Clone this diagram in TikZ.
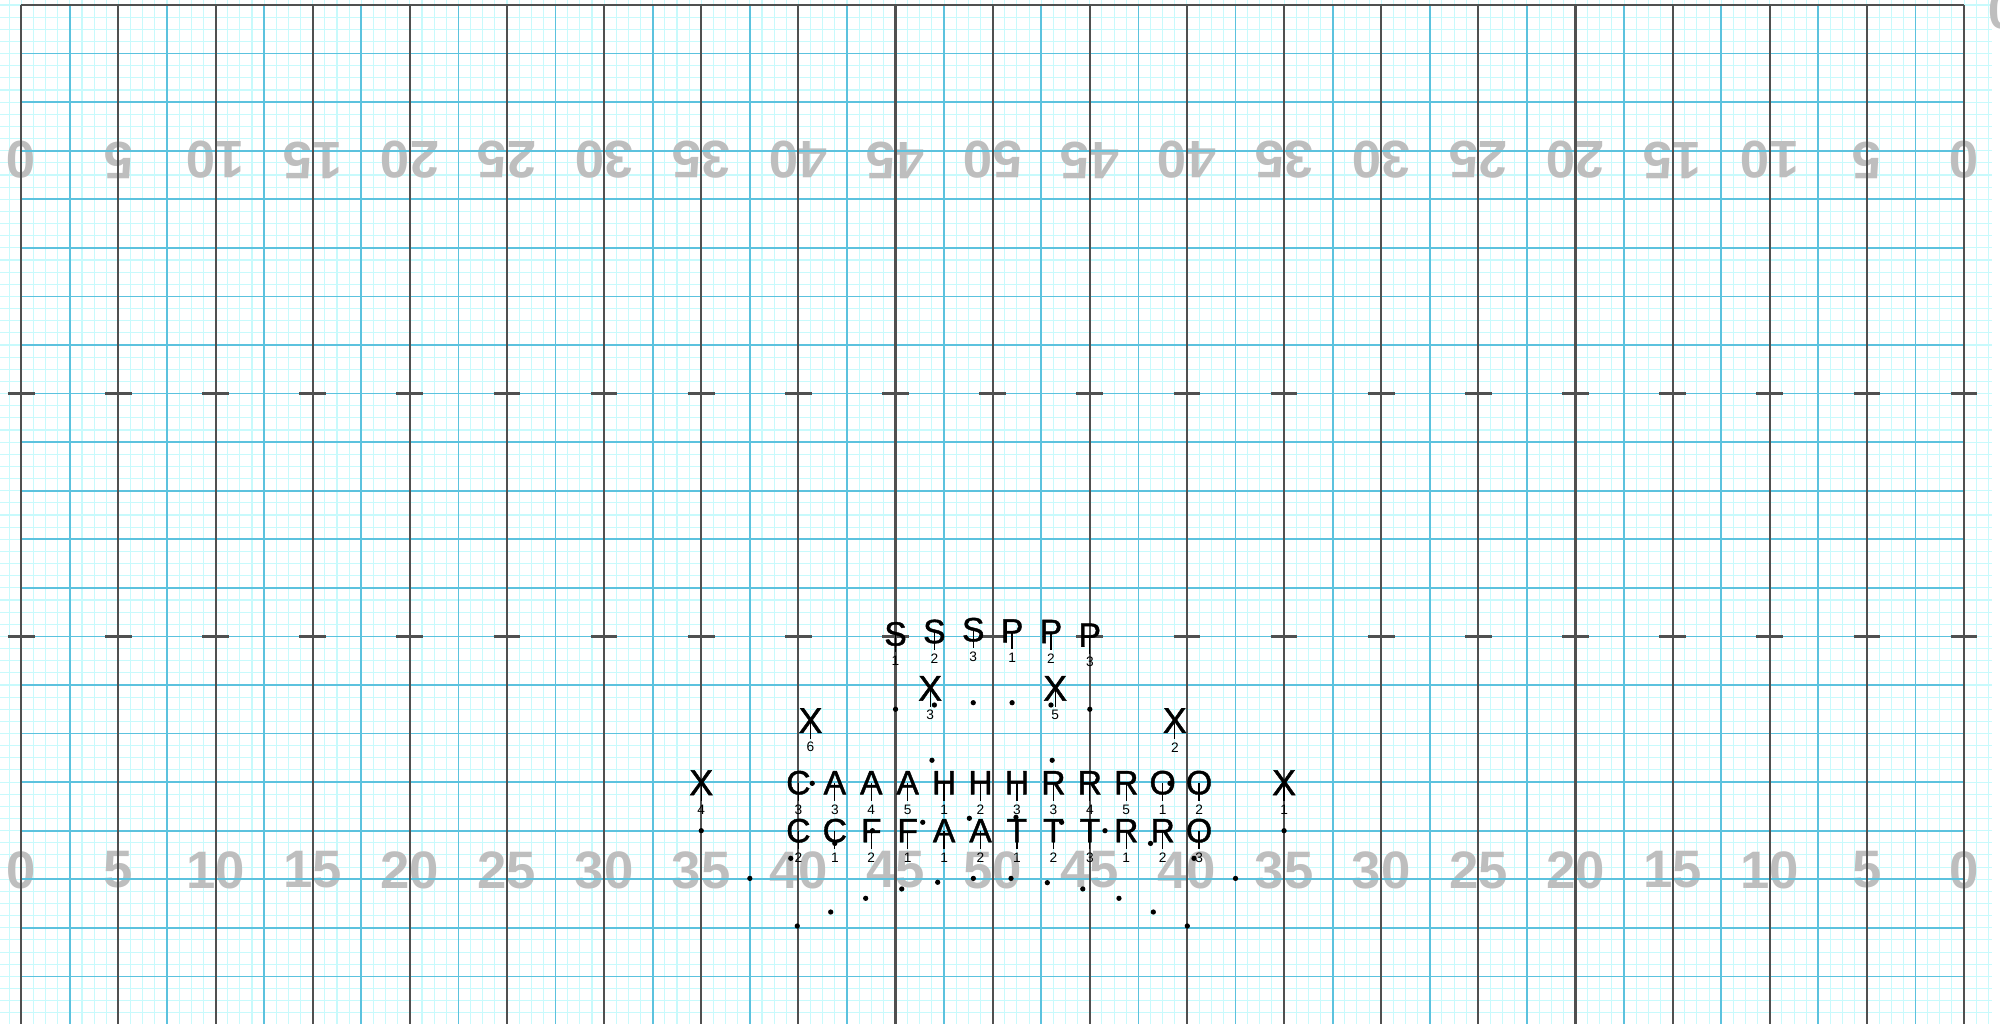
\documentclass[tikz,border=0pt]{standalone}
\usepackage{fontspec}
\setmainfont{Liberation Sans}
\newfontfamily\markfont[FakeBold=1.2]{Liberation Sans}
\usetikzlibrary{positioning}

\definecolor{gridminor}{RGB}{200,250,252}
\definecolor{gridmid}{RGB}{92,194,222}
\definecolor{gridmajor}{RGB}{80,80,80}
\definecolor{yardgray}{RGB}{190,190,190}

\tikzset{
  minorline/.style={gridminor, line width=0.3pt},
  midline/.style={gridmid, line width=0.5pt},
  majorline/.style={gridmajor, line width=0.6pt},
  hashmark/.style={gridmajor, line width=0.8pt},
  yardnum/.style={yardgray, font=\fontsize{15}{17}\selectfont\bfseries, inner sep=0pt},
  lett/.style={font=\markfont\fontsize{9.6}{11}\selectfont, inner sep=0pt},
  xlett/.style={font=\markfont\fontsize{10.2}{12}\selectfont, inner sep=0pt},
  num/.style={font=\fontsize{3.9}{4.5}\selectfont, inner sep=0.8pt},
  flag/.style={line width=0.35pt},
  spot/.style={fill=black},
}

% letter, number under it, and the line that ties them
\newcommand{\performer}[6][lett]{%
  \node[#1] (#2) at (#5,#6) {#3};
  \node[num] (#2n) at (#5,#6+2.2) {#4};
  \draw[flag] (#2.center) -- (#2n.north);
}

\begin{document}
\begin{tikzpicture}[x=1.2142mm, y=-1.2142mm]
    \useasboundingbox (-1.754,-0.412) rectangle (162.96,83.84);
    % one line per step
    \foreach \i in {-2,...,162} \draw[minorline] (\i,-1) -- (\i,85);
    \foreach \j in {-1,...,85} \draw[minorline] (-2,\j) -- (162.3,\j);
    % yard numbers, far side upside down
    \foreach \i in {0,...,20} {
        \pgfmathtruncatemacro{\yd}{5*min(\i,20-\i)}
        \node[yardnum] (bot\i) at (8*\i,71.24) {\yd};
        \node[yardnum, rotate=180] (top\i) at (8*\i,12.77) {\yd};
    }
    \node[yardnum, rotate=180] (edge0) at (163.2,0.5) {0};
    % 4-step lines
    \foreach \i in {0,...,19} \draw[midline] (8*\i+4,0) -- (8*\i+4,85);
    \foreach \j in {4,8,...,84} \draw[midline] (0,\j) -- (160,\j);
    % 5-yard lines and sideline
    \foreach \i in {0,...,20} \draw[majorline] (8*\i,0) -- (8*\i,85);
    \draw[majorline] (0,0) -- (160,0);
    % hash marks
    \foreach \i in {0,...,20} {
        \draw[hashmark] (8*\i-1.1,32) -- (8*\i+1.1,32);
        \draw[hashmark] (8*\i-1.1,52) -- (8*\i+1.1,52);
    }
    % spots
    \foreach \p in {(72,58),(75.2,57.65),(78.4,57.46),(81.6,57.46),(84.8,57.65),(88,58),
                    (75,62.2),(84.9,62.2),(65.14,64.1),(94.6,64.1),
                    (63.37,70.28),(67,69.05),(70.1,68),(74.24,67.31),(78.08,66.98),
                    (81.92,66.9),(85.68,67.31),(89.25,68),(93,69.05),(96.58,70.28),
                    (56,68),(104,68),(60,71.93),(100,71.93),
                    (63.91,75.85),(66.66,74.7),(69.54,73.57),(72.51,72.8),(75.47,72.25),(78.41,71.93),
                    (81.51,71.93),(84.5,72.28),(87.42,72.8),(90.4,73.57),(93.23,74.7),(96.03,75.85)}
        \fill[spot] \p circle[radius=0.75pt];
    % S and P
    \performer{S1}{S}{1}{72}{51.8}
    \performer{S2}{S}{2}{75.2}{51.6}
    \performer{S3}{S}{3}{78.4}{51.45}
    \performer{P1}{P}{1}{81.6}{51.55}
    \performer{P2}{P}{2}{84.8}{51.6}
    \performer{P3}{P}{3}{88}{51.9}
    % X
    \performer[xlett]{X6}{X}{6}{65}{58.93}
    \performer[xlett]{X3}{X}{3}{74.85}{56.28}
    \performer[xlett]{X5}{X}{5}{85.15}{56.28}
    \performer[xlett]{X2}{X}{2}{95}{58.93}
    \performer[xlett]{X4}{X}{4}{56}{64.05}
    \performer[xlett]{X1}{X}{1}{104}{64.05}
    % front row
    \performer{C3}{C}{3}{64}{64.05}
    \performer{A3}{A}{3}{67}{64.05}
    \performer{A4}{A}{4}{70}{64.05}
    \performer{A5}{A}{5}{73}{64.05}
    \performer{H1}{H}{1}{76}{64.05}
    \performer{H2}{H}{2}{79}{64.05}
    \performer{H3}{H}{3}{82}{64.05}
    \performer{R3}{R}{3}{85}{64.05}
    \performer{R4}{R}{4}{88}{64.05}
    \performer{R5}{R}{5}{91}{64.05}
    \performer{O1}{O}{1}{94}{64.05}
    \performer{O2}{O}{2}{97}{64.05}
    % back row
    \performer{C2}{C}{2}{64}{68}
    \performer{C1}{C}{1}{67}{68}
    \performer{F2}{F}{2}{70}{68}
    \performer{F1}{F}{1}{73}{68}
    \performer{A1}{A}{1}{76}{68}
    \performer{A2}{A}{2}{79}{68}
    \performer{T1}{T}{1}{82}{68}
    \performer{T2}{T}{2}{85}{68}
    \performer{T3}{T}{3}{88}{68}
    \performer{R1}{R}{1}{91}{68}
    \performer{R2}{R}{2}{94}{68}
    \performer{O3}{O}{3}{97}{68}
\end{tikzpicture}
\end{document}
